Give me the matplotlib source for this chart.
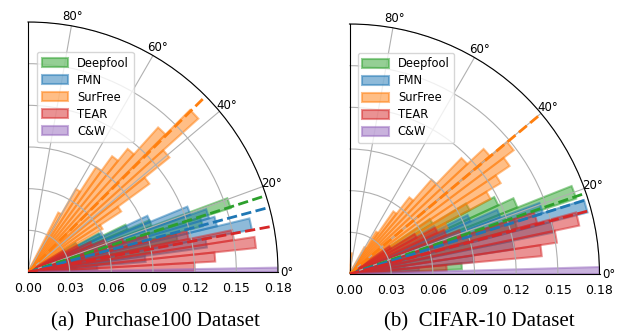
import numpy as np
import matplotlib
matplotlib.use('Agg')
import matplotlib.pyplot as plt
from matplotlib.ticker import FormatStrFormatter

methods = ['Deepfool', 'FMN', 'SurFree', 'TEAR', 'C&W']
colors = ['tab:green', 'tab:blue', 'tab:orange', 'tab:red', 'tab:purple']

# ---- (a) Purchase100: bin left edges (deg), bin width (deg), radius ----
a_deepfool_theta = [3.5, 6.3, 9.1, 11.9, 14.7, 17.5, 20.3, 23.1, 25.9, 28.7]
a_deepfool_r = [0.035, 0.06, 0.09, 0.11, 0.13, 0.153, 0.095, 0.078, 0.058, 0.04]
a_fmn_theta = [2.0, 4.9, 7.8, 10.7, 13.6, 16.5, 19.4, 22.3, 25.2, 28.1]
a_fmn_r = [0.05, 0.085, 0.13, 0.164, 0.14, 0.136, 0.124, 0.095, 0.06, 0.04]
a_surfree_theta = [27, 30, 33, 36, 39, 42, 45, 48, 51, 54, 57, 60]
a_surfree_r = [0.04, 0.062, 0.08, 0.108, 0.131, 0.165, 0.14, 0.114, 0.103, 0.09, 0.069, 0.048]
a_tear_theta = [0.4, 3.2, 6.0, 8.8, 11.6, 14.4, 17.2, 20.0, 22.8, 25.6, 28.4]
a_tear_r = [0.12, 0.135, 0.165, 0.15, 0.118, 0.09, 0.072, 0.06, 0.05, 0.04, 0.03]
a_cw_theta = [0.0]
a_cw_r = [0.18]
a_width = [2.8, 2.9, 3.0, 2.8, 1.0]
a_mean_angle = [17.8, 15.0, 44.7, 10.6]

# ---- (b) CIFAR-10 ----
b_deepfool_theta = [2.4, 5.6, 8.8, 12.0, 15.2, 18.4, 21.6, 24.8, 28.0, 31.2]
b_deepfool_r = [0.081, 0.04, 0.06, 0.09, 0.125, 0.172, 0.13, 0.118, 0.098, 0.07]
b_fmn_theta = [2.5, 5.5, 8.5, 11.5, 14.5, 17.5, 20.5, 23.5, 26.5]
b_fmn_r = [0.05, 0.09, 0.12, 0.15, 0.177, 0.146, 0.116, 0.095, 0.07]
b_surfree_theta = [25, 28, 31, 34, 37, 40, 43, 46, 49, 52, 55, 58, 82]
b_surfree_r = [0.078, 0.115, 0.127, 0.139, 0.148, 0.132, 0.116, 0.09, 0.07, 0.055, 0.036, 0.022, 0.015]
b_tear_theta = [2.0, 5.3, 8.6, 11.9, 15.2, 18.5, 21.8, 25.1, 28.4, 31.7]
b_tear_r = [0.07, 0.139, 0.151, 0.169, 0.14, 0.085, 0.075, 0.07, 0.055, 0.035]
b_cw_theta = [0.0]
b_cw_r = [0.18]
b_width = [3.2, 3.0, 3.0, 3.3, 1.6]
b_mean_angle = [18.9, 17.4, 39.9, 14.8]

r_ticks = [0.00, 0.03, 0.06, 0.09, 0.12, 0.15, 0.18]
theta_ticks = [0, 20, 40, 60, 80]
captions = ['(a)  Purchase100 Dataset', '(b)  CIFAR-10 Dataset']


def draw_panel(ax, thetas, radii, widths, means, legend_xy):
    for th, r, w, c, name in zip(thetas, radii, widths, colors, methods):
        ax.bar(np.deg2rad(th), r, width=np.deg2rad(w), align='edge',
               color=c, edgecolor=c, alpha=0.5, linewidth=1.5, label=name)
    for m, c in zip(means, colors[:4]):
        ax.plot([np.deg2rad(m)] * 2, [0, r_ticks[-1]], '--', color=c, lw=2, zorder=5)
    ax.set_thetamin(0)
    ax.set_thetamax(90)
    ax.set_ylim(0, r_ticks[-1])
    ax.set_rticks(r_ticks)
    ax.set_thetagrids(theta_ticks)
    ax.yaxis.set_major_formatter(FormatStrFormatter('%.2f'))
    ax.tick_params(axis='y', labelsize=9)
    ax.tick_params(axis='x', labelsize=8.5, pad=-4)
    ax.legend(loc='upper left', bbox_to_anchor=legend_xy, borderaxespad=0,
              fontsize=8.3, labelspacing=0.35, handlelength=2.3,
              handleheight=0.8, handletextpad=0.8)


fig = plt.figure(figsize=(6.27, 3.36), dpi=100)
ax1 = fig.add_axes([27 / 627, 64 / 336, 252 / 627, 250 / 336], projection='polar')
ax2 = fig.add_axes([349 / 627, 62 / 336, 251 / 627, 250 / 336], projection='polar')

draw_panel(ax1,
           [a_deepfool_theta, a_fmn_theta, a_surfree_theta, a_tear_theta, a_cw_theta],
           [a_deepfool_r, a_fmn_r, a_surfree_r, a_tear_r, a_cw_r],
           a_width, a_mean_angle, (0.036, 0.88))
draw_panel(ax2,
           [b_deepfool_theta, b_fmn_theta, b_surfree_theta, b_tear_theta, b_cw_theta],
           [b_deepfool_r, b_fmn_r, b_surfree_r, b_tear_r, b_cw_r],
           b_width, b_mean_angle, (0.032, 0.885))

fig.text(155 / 627, 14 / 336, captions[0], ha='center', va='center',
         family='Liberation Serif', fontsize=15)
fig.text(479 / 627, 14 / 336, captions[1], ha='center', va='center',
         family='Liberation Serif', fontsize=15)

fig.savefig('out.png', dpi=100)
